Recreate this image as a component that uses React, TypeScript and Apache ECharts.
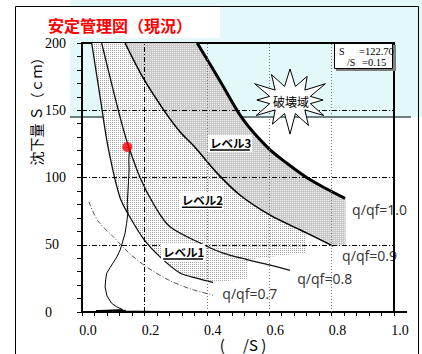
import React, { useEffect, useRef } from "react";
import * as echarts from "echarts";

// ---------------- data ----------------
const X_MIN = 0;
const X_MAX = 1;
const X_INTERVAL = 0.2;
const Y_MIN = 0;
const Y_MAX = 200;
const Y_INTERVAL = 50;

// q/qf = 0.7 (dash-dot)
const curve07X = [0.022, 0.05, 0.1, 0.15, 0.207, 0.28, 0.35, 0.42];
const curve07S = [82, 68, 56, 44, 33.5, 23.5, 17, 12.5];
// unlabeled solid curve
const curveBX = [0.031, 0.058, 0.084, 0.122, 0.16, 0.2, 0.25, 0.314, 0.37, 0.42];
const curveBS = [200, 160, 122, 85, 68, 53.5, 41, 29, 25, 22];
// q/qf = 0.8
const curve08X = [0.063, 0.1, 0.13, 0.148, 0.186, 0.23, 0.282, 0.39, 0.45, 0.528, 0.6, 0.667];
const curve08S = [200, 165, 138, 124, 100, 80, 63.3, 50, 44, 39, 35, 31];
// q/qf = 0.9
const curve09X = [0.138, 0.196, 0.261, 0.314, 0.36, 0.43, 0.506, 0.603, 0.7, 0.805];
const curve09S = [200, 174, 150.5, 134, 123, 104, 87, 72, 61, 49];
// q/qf = 1.0
const curve10X = [0.369, 0.442, 0.515, 0.596, 0.66, 0.72, 0.78, 0.843];
const curve10S = [200, 172, 143.5, 122, 110, 100, 92, 84.5];

// extra corners of the shaded zones
const grayZoneEdgeX = [0.845, 0.845];
const grayZoneEdgeS = [50, 84.5];
const lightZoneEdgeX = [0.53, 0.53, 0.715, 0.715];
const lightZoneEdgeS = [25, 39, 44, 59.3];

// measured settlement path
const measX = [0.25, 0.17, 0.04, 0.14, 0.045, 0.13, 0.11, 0.095, 0.08, 0.074, 0.076, 0.079, 0.09, 0.099, 0.112, 0.122, 0.13, 0.138, 0.143, 0.147, 0.145, 0.147, 0.149, 0.151, 0.15, 0.152, 0.145];
const measS = [0.4, 0.6, 0.2, 1.2, 1, 1.8, 4, 6.5, 12, 18.6, 24, 28.8, 33, 36.3, 41, 46, 52, 58.6, 66, 73.5, 80, 88.5, 97, 105.6, 113, 120.5, 122.7];

const currentX = 0.145;
const currentS = 122.7;

const vDashDot = [0.2];
const vDotted = [0.4, 0.6, 0.8];
const hDashDot = [50, 100, 150];

const qqfLabels = ["q/qf=0.7", "q/qf=0.8", "q/qf=0.9", "q/qf=1.0"];
const qqfX = [0.448, 0.688, 0.832, 0.864];
const qqfS = [14, 25, 42.3, 76.5];

const levelLabels = ["レベル1", "レベル2", "レベル3"];
const levelX = [0.26, 0.32, 0.41];
const levelS = [44.7, 83, 125.7];

const titleText = "安定管理図（現況）";
const yName = "沈下量 Ｓ（ｃｍ）";
const xName = "(　 /S )";
const boxLine1 = ["S", "=122.70"];
const boxLine2 = ["/S", "=0.15"];
const starText = "破壊域";

// ---------------- helpers ----------------
const zip = (xs: number[], ys: number[]) => xs.map((x, i) => [x, ys[i]]);

function makePattern(w: number, h: number, bg: string, cells: [number, number, string][]) {
  const c = document.createElement("canvas");
  c.width = w;
  c.height = h;
  const ctx = c.getContext("2d")!;
  ctx.fillStyle = bg;
  ctx.fillRect(0, 0, w, h);
  cells.forEach(([x, y, col]) => {
    ctx.fillStyle = col;
    ctx.fillRect(x, y, 1, 1);
  });
  return { image: c, repeat: "repeat" };
}

export default function App() {
  const ref = useRef<HTMLDivElement>(null);

  useEffect(() => {
    if (!ref.current) return;
    const chart = echarts.init(ref.current, null, { renderer: "svg" });

    const dotPattern = makePattern(2, 2, "#ffffff", [[0, 0, "#a4a4a4"]]);
    const grayPattern = makePattern(2, 2, "#c9c9c9", [[0, 0, "#ececec"]]);

    const c07 = zip(curve07X, curve07S);
    const cB = zip(curveBX, curveBS);
    const c08 = zip(curve08X, curve08S);
    const c09 = zip(curve09X, curve09S);
    const c10 = zip(curve10X, curve10S);

    const grayZone = [...c09, ...zip(grayZoneEdgeX, grayZoneEdgeS), ...c10.slice().reverse()];
    const lightZone = [...cB, ...zip(lightZoneEdgeX, lightZoneEdgeS), ...c09.slice().reverse()];
    const zones = [lightZone, grayZone];
    const zoneFills = [dotPattern, grayPattern];

    // star decoration
    const starPts: number[][] = [];
    const N = 12;
    const starVar = [1, 0.88, 1.05, 0.85, 1.0, 0.95, 1.1, 0.9, 1.0, 0.85, 1.05, 0.95];
    for (let i = 0; i < 2 * N; i++) {
      const a = -Math.PI / 2 + (i * Math.PI) / N;
      const outer = i % 2 === 0;
      const k = outer ? starVar[i / 2] : 1;
      const rx = outer ? 39 * k : 21;
      const ry = outer ? 31 * k : 14;
      starPts.push([290 + rx * Math.cos(a), 100 + ry * Math.sin(a)]);
    }

    const dashDot = [5, 2, 1, 2];

    const option: any = {
      animation: false,
      grid: {
        left: 82,
        right: 28,
        top: 43,
        bottom: 42,
        show: true,
        borderColor: "#000",
        borderWidth: 2,
        backgroundColor: "transparent",
      },
      xAxis: {
        type: "value",
        min: X_MIN,
        max: X_MAX,
        interval: X_INTERVAL,
        axisLine: { show: true, lineStyle: { color: "#000", width: 2 } },
        axisTick: { show: true, length: 4, lineStyle: { color: "#000" } },
        minorTick: { show: true, splitNumber: 5, length: 4, lineStyle: { color: "#000" } },
        splitLine: { show: false },
        axisLabel: {
          formatter: (v: number) => v.toFixed(1),
          fontFamily: "Liberation Serif",
          fontSize: 14,
          color: "#000",
          margin: 11,
          padding: [0, 0, 0, 12],
        },
      },
      yAxis: {
        type: "value",
        min: Y_MIN,
        max: Y_MAX,
        interval: Y_INTERVAL,
        axisLine: { show: true, lineStyle: { color: "#000", width: 2 } },
        axisTick: { show: true, length: 5, lineStyle: { color: "#000" } },
        minorTick: { show: true, splitNumber: 5, length: 5, lineStyle: { color: "#000" } },
        splitLine: { show: false },
        axisLabel: {
          fontFamily: "Liberation Serif",
          fontSize: 14,
          color: "#000",
          align: "left",
          margin: 37,
        },
      },
      graphic: [
        // background cyan block and its lower edge
        { type: "rect", z: -5, shape: { x: 70, y: 0, width: 352, height: 117 }, style: { fill: "#e3f9f9" } },
        { type: "line", z: -4, shape: { x1: 70, y1: 117, x2: 411, y2: 117 }, style: { stroke: "#6e7e7e", lineWidth: 2 } },
        { type: "rect", z: -3, shape: { x: 16, y: 7, width: 204, height: 31 }, style: { fill: "#fff" } },
        // outer frame
        { type: "polyline", z: -2, shape: { points: [[15.5, 354], [15.5, 6.5], [418.5, 6.5], [418.5, 354]] }, style: { stroke: "#000", lineWidth: 1, fill: "none" } },
        // axis extension
        { type: "line", z: 10, shape: { x1: 394, y1: 312, x2: 407, y2: 312 }, style: { stroke: "#000", lineWidth: 2 } },
        // title
        {
          type: "text",
          z: 20,
          x: 48,
          y: 25,
          style: { text: titleText, fill: "#ff0000", font: "bold 16px 'Noto Sans CJK JP'", verticalAlign: "middle" },
        },
        // axis names
        {
          type: "text",
          z: 20,
          x: 36,
          y: 108,
          rotation: Math.PI / 2,
          style: { text: yName, fill: "#000", font: "14px 'Noto Sans CJK JP'", align: "center", verticalAlign: "middle" },
        },
        {
          type: "text",
          z: 20,
          x: 243,
          y: 344,
          style: { text: xName, fill: "#000", font: "15px 'Noto Sans CJK JP'", align: "center", verticalAlign: "middle" },
        },
        // info box
        { type: "rect", z: 30, shape: { x: 336, y: 45, width: 60, height: 26 }, style: { fill: "#7f7f7f" } },
        { type: "rect", z: 31, shape: { x: 334.5, y: 43.5, width: 58, height: 25 }, style: { fill: "#fff", stroke: "#000", lineWidth: 1 } },
        { type: "text", z: 32, x: 339, y: 51.5, style: { text: boxLine1[0], fill: "#000", font: "10px 'Liberation Serif'", verticalAlign: "middle" } },
        { type: "text", z: 32, x: 359, y: 51.5, style: { text: boxLine1[1], fill: "#000", font: "10.5px 'Liberation Serif'", verticalAlign: "middle" } },
        { type: "text", z: 32, x: 347, y: 62.5, style: { text: boxLine2[0], fill: "#000", font: "10px 'Liberation Serif'", verticalAlign: "middle" } },
        { type: "text", z: 32, x: 362, y: 62.5, style: { text: boxLine2[1], fill: "#000", font: "10.5px 'Liberation Serif'", verticalAlign: "middle" } },
        // star
        { type: "polygon", z: 40, shape: { points: starPts }, style: { fill: "#fff", stroke: "#000", lineWidth: 1 } },
        {
          type: "text",
          z: 41,
          x: 291,
          y: 101,
          style: { text: starText, fill: "#000", font: "12px 'Noto Sans CJK JP'", align: "center", verticalAlign: "middle" },
        },
      ],
      series: [
        {
          type: "custom",
          z: 1,
          silent: true,
          data: zones.map((zn, i) => [zn[0][0], zn[0][1], i]),
          encode: { x: 0, y: 1 },
          renderItem: (params: any, api: any) => {
            const i = params.dataIndex;
            const pts = zones[i].map((p) => api.coord(p));
            return { type: "polygon", shape: { points: pts }, style: { fill: zoneFills[i], stroke: null } };
          },
        },
        {
          type: "line",
          z: 2,
          data: [],
          silent: true,
          markLine: {
            silent: true,
            symbol: ["none", "none"],
            label: { show: false },
            data: [
              ...vDashDot.map((v) => ({ xAxis: v, lineStyle: { color: "#000", width: 1, type: dashDot } })),
              ...vDotted.map((v) => ({ xAxis: v, lineStyle: { color: "#777", width: 1, type: [1, 2] } })),
              ...hDashDot.map((v) => ({ yAxis: v, lineStyle: { color: "#000", width: 1, type: dashDot } })),
            ],
          },
        },
        {
          type: "line",
          z: 3,
          data: c07,
          showSymbol: false,
          smooth: 0.3,
          silent: true,
          lineStyle: { color: "#555", width: 1, type: dashDot },
        },
        { type: "line", z: 3, data: cB, showSymbol: false, smooth: 0.3, silent: true, lineStyle: { color: "#111", width: 1.3 } },
        { type: "line", z: 3, data: c08, showSymbol: false, smooth: 0.3, silent: true, lineStyle: { color: "#111", width: 1.3 } },
        { type: "line", z: 3, data: c09, showSymbol: false, smooth: 0.3, silent: true, lineStyle: { color: "#000", width: 1.5 } },
        { type: "line", z: 3, data: c10, showSymbol: false, smooth: 0.3, silent: true, lineStyle: { color: "#000", width: 3 } },
        {
          type: "line",
          z: 4,
          data: zip(measX, measS),
          showSymbol: false,
          silent: true,
          lineStyle: { color: "#000", width: 1 },
        },
        {
          type: "scatter",
          z: 5,
          data: [[currentX, currentS]],
          symbolSize: 10,
          silent: true,
          itemStyle: { color: "#ff0000" },
        },
        {
          type: "scatter",
          z: 6,
          data: zip(qqfX, qqfS),
          symbolSize: 1,
          silent: true,
          itemStyle: { color: "transparent" },
          label: {
            show: true,
            position: "right",
            distance: 0,
            formatter: (p: any) => qqfLabels[p.dataIndex],
            fontFamily: "Noto Sans",
            fontSize: 14,
            color: "#000",
          },
        },
        {
          type: "custom",
          z: 7,
          silent: true,
          data: zip(levelX, levelS),
          encode: { x: 0, y: 1 },
          renderItem: (params: any, api: any) => {
            const p = api.coord([api.value(0), api.value(1)]);
            const W = 40;
            return {
              type: "group",
              children: [
                { type: "rect", shape: { x: p[0] - 2, y: p[1] - 8, width: W + 4, height: 17 }, style: { fill: "#fff" } },
                {
                  type: "text",
                  x: p[0],
                  y: p[1],
                  style: {
                    text: levelLabels[params.dataIndex],
                    fill: "#000",
                    font: "bold 11.5px 'Noto Sans CJK JP'",
                    align: "left",
                    verticalAlign: "middle",
                  },
                },
                { type: "line", shape: { x1: p[0], y1: p[1] + 7, x2: p[0] + W, y2: p[1] + 7 }, style: { stroke: "#000", lineWidth: 1.5 } },
              ],
            };
          },
        },
      ],
    };

    chart.setOption(option);
    return () => chart.dispose();
  }, []);

  return <div ref={ref} style={{ position: "absolute", left: 0, top: 0, width: 422, height: 354 }} />;
}
